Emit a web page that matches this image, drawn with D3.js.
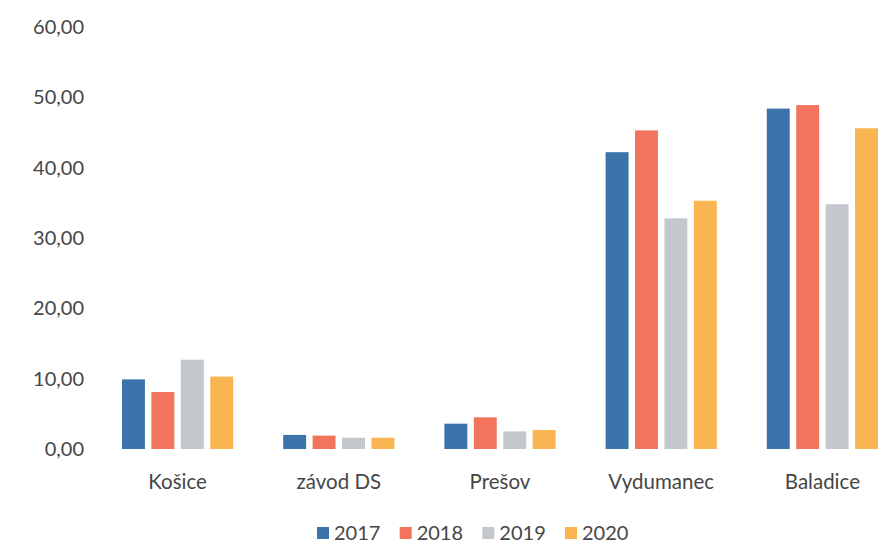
<!DOCTYPE html>
<html>
<head>
<meta charset="utf-8">
<script src="https://cdn.jsdelivr.net/npm/d3@7/dist/d3.min.js"></script>
<style>
  html, body { margin: 0; padding: 0; background: #fff; }
  svg { display: block; font-family: Lato, "Open Sans", sans-serif; }
</style>
</head>
<body>
<svg id="chart" width="886" height="560"></svg>
<script>
// Sites and yearly values
const categories = ["Košice", "závod DS", "Prešov", "Vydumanec", "Baladice"];
const years = ["2017", "2018", "2019", "2020"];
const values2017 = [9.9, 2.0, 3.6, 42.2, 48.4];
const values2018 = [8.1, 1.9, 4.5, 45.3, 48.9];
const values2019 = [12.7, 1.6, 2.5, 32.8, 34.8];
const values2020 = [10.3, 1.6, 2.7, 35.3, 45.6];
const yTicks = [0, 10, 20, 30, 40, 50, 60];
const colors = ["#3b74ab", "#f3745c", "#c4c7cb", "#f8b552"];

const seriesValues = [values2017, values2018, values2019, values2020];
const rows = categories.map((c, i) => ({
  category: c,
  values: years.map((y, j) => ({ year: y, value: seriesValues[j][i] }))
}));

const svg = d3.select("#chart");

const x0 = d3.scaleBand().domain(categories).range([97, 903]).paddingInner(0.31).paddingOuter(0.155);
const x1 = d3.scaleBand().domain(years).range([0, x0.bandwidth()]).paddingInner(0.22);
const y = d3.scaleLinear().domain([0, 60]).range([449, 27]);
const color = d3.scaleOrdinal().domain(years).range(colors);

const textColor = "#464646";

// Y axis labels
const yAxis = d3.axisLeft(y)
  .tickValues(yTicks)
  .tickSize(0)
  .tickPadding(0)
  .tickFormat(d => d3.format(".2f")(d).replace(".", ","));
svg.append("g")
  .attr("transform", "translate(84,0)")
  .call(yAxis)
  .call(g => g.select(".domain").remove())
  .call(g => g.selectAll("text")
    .attr("fill", textColor)
    .style("font-family", "Lato, sans-serif")
    .style("font-size", "20px"));

// Bars
const groups = svg.append("g").selectAll("g")
  .data(rows)
  .join("g")
  .attr("transform", d => `translate(${x0(d.category)},0)`);

groups.selectAll("rect")
  .data(d => d.values)
  .join("rect")
  .attr("x", d => x1(d.year))
  .attr("y", d => y(d.value))
  .attr("width", x1.bandwidth())
  .attr("height", d => y(0) - y(d.value))
  .attr("fill", d => color(d.year));

// Category labels
const xAxis = d3.axisBottom(x0).tickSize(0).tickPadding(0);
svg.append("g")
  .attr("transform", "translate(0,474)")
  .call(xAxis)
  .call(g => g.select(".domain").remove())
  .call(g => g.selectAll("text")
    .attr("fill", textColor)
    .style("font-family", "Lato, sans-serif")
    .style("font-size", "20.5px"));

// Legend
const legendX = d3.scalePoint().domain(years).range([317, 565]);
const legend = svg.append("g").selectAll("g")
  .data(years)
  .join("g")
  .attr("transform", d => `translate(${legendX(d)},533)`);
legend.append("rect")
  .attr("x", 0).attr("y", -6)
  .attr("width", 12).attr("height", 12)
  .attr("fill", d => color(d));
legend.append("text")
  .attr("x", 17).attr("y", 0)
  .attr("dy", "0.35em")
  .attr("fill", textColor)
  .style("font-size", "20px")
  .text(d => d);
</script>
</body>
</html>
